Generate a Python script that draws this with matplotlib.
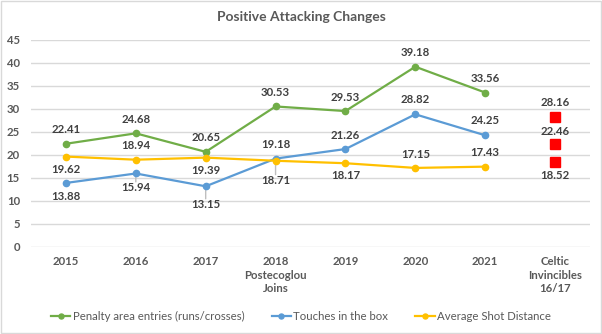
import numpy as np
import matplotlib.pyplot as plt
from matplotlib.patches import Rectangle

plt.rcParams['font.family'] = ['Lato', 'DejaVu Sans']

# Season categories and per-season attacking numbers
categories = ['2015', '2016', '2017', '2018\nPostecoglou\nJoins', '2019', '2020', '2021',
              'Celtic\nInvincibles\n16/17']
penalty_entries = [22.41, 24.68, 20.65, 30.53, 29.53, 39.18, 33.56]
touches_in_box = [13.88, 15.94, 13.15, 19.18, 21.26, 28.82, 24.25]
shot_distance = [19.62, 18.94, 19.39, 18.71, 18.17, 17.15, 17.43]
invincibles = [28.16, 22.46, 18.52]
y_ticks = [0, 5, 10, 15, 20, 25, 30, 35, 40, 45]

# label offsets (points, + is up) for each series
pen_off = [10] * 7
touch_off = [-10, -10, -13, 10, 10, 11, 11]
dist_off = [-9, 10, -9, -14, -9, 10, 10]
inv_off = [11, 9, -10]

green = '#70AD47'
blue = '#5B9BD5'
yellow = '#FFC000'
txt = '#404040'
axis_txt = '#595959'

fig = plt.figure(figsize=(6.02, 3.34), dpi=100)
ax = fig.add_axes([31 / 602, 1 - 246.7 / 334, 559 / 602, 206.7 / 334])

x = np.arange(len(penalty_entries))
series = [(penalty_entries, green, 'Penalty area entries (runs/crosses)', pen_off),
          (touches_in_box, blue, 'Touches in the box', touch_off),
          (shot_distance, yellow, 'Average Shot Distance', dist_off)]

for vals, col, name, offs in series:
    ax.plot(x, vals, color=col, lw=1.6, marker='o', ms=4.5, label=name, zorder=3)
    for xi, v, off in zip(x, vals, offs):
        ax.annotate(f'{v:.2f}', (xi, v), xytext=(0, off), textcoords='offset points',
                    ha='center', va='center', fontsize=8.2, fontweight='bold', color=txt,
                    zorder=4)

# faint leader lines for labels pushed away from their points
for xi, v, off in [(1, touches_in_box[1], -10), (2, touches_in_box[2], -13),
                   (3, shot_distance[3], -14)]:
    ax.annotate('', (xi, v), xytext=(0, off + 4), textcoords='offset points',
                arrowprops=dict(arrowstyle='-', color='#BFBFBF', lw=1.0,
                                shrinkA=0, shrinkB=1), zorder=2)

xc = len(categories) - 1
ax.plot([xc] * len(invincibles), invincibles, ls='none', marker='s', ms=7,
        color='#FF0000', zorder=3)
for v, off in zip(invincibles, inv_off):
    ax.annotate(f'{v:.2f}', (xc, v), xytext=(0, off), textcoords='offset points',
                ha='center', va='center', fontsize=8.2, fontweight='bold', color=txt,
                zorder=4)

ax.set_xlim(-0.5, len(categories) - 0.5)
ax.set_ylim(0, 45)
ax.set_yticks(y_ticks)
ax.set_xticks(np.arange(len(categories)))
ax.set_xticklabels(categories, linespacing=1.25)
ax.grid(axis='y', color='#D9D9D9', lw=1)
ax.set_axisbelow(True)
for s in ax.spines.values():
    s.set_visible(False)
ax.tick_params(axis='both', length=0, labelsize=8.2, labelcolor=axis_txt)
ax.tick_params(axis='y', pad=8)
ax.tick_params(axis='x', pad=7)
for lab in ax.get_xticklabels() + ax.get_yticklabels():
    lab.set_fontweight('bold')
for lab in ax.get_xticklabels():
    lab.set_verticalalignment('top')

fig.text(0.5, 1 - 17 / 334, 'Positive Attacking Changes', ha='center', va='center',
         fontsize=10, fontweight='bold', color=axis_txt)

fig.legend(loc='center', bbox_to_anchor=(0.5, 1 - 316.5 / 334), ncol=3, frameon=False,
           fontsize=8.2, labelcolor=axis_txt, handlelength=1.7, handletextpad=0.2,
           columnspacing=2.4, markerscale=0.8)

fig.patches.append(Rectangle((0.002, 0.003), 0.996, 0.994, transform=fig.transFigure,
                             fill=False, edgecolor='#D9D9D9', lw=1))

fig.savefig('out.png', dpi=100)
